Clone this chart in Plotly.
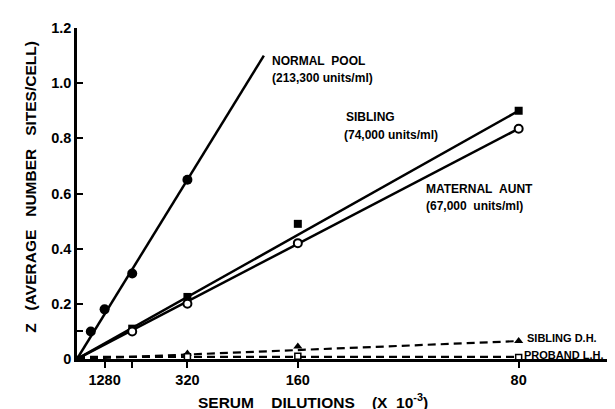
import plotly.graph_objects as go

# ---- data (serum dilutions, reciprocal) ----
normal_dil = [2560, 1280, 640, 320]
normal_z = [0.10, 0.18, 0.31, 0.65]
normal_line_top_z = 1.1

sib_dil = [640, 320, 160, 80]
sib_z = [0.11, 0.225, 0.49, 0.90]

aunt_dil = [640, 320, 160, 80]
aunt_z = [0.10, 0.20, 0.42, 0.835]

sibdh_dil = [320, 160, 80]
sibdh_z = [0.02, 0.045, 0.065]

proband_dil = [320, 160, 80]
proband_z = [0.008, 0.01, 0.005]

x_tick_dil = [1280, 320, 160, 80]
x_tick_text = ["1280", "320", "160", "80"]
x_minor_dil = [640]
y_tick_vals = [0, 0.2, 0.4, 0.6, 0.8, 1.0, 1.2]
y_tick_text = ["0", "0.2", "0.4", "0.6", "0.8", "1.0", "1.2"]
y_minor_vals = [0.1]


def conc(d):
    return [1000.0 / v for v in d]


FONT = "Liberation Sans"
NB = "\u00a0"
fig = go.Figure()


def solid_line(xs, zs, z_end=None):
    slope = zs[-1] / xs[-1]
    x_end = xs[-1] if z_end is None else z_end / slope
    return go.Scatter(x=[0, x_end], y=[0, slope * x_end], mode="lines",
                      line=dict(color="black", width=2.5), showlegend=False,
                      hoverinfo="skip", cliponaxis=False)


nx = conc(normal_dil)
fig.add_trace(solid_line(nx, normal_z, normal_line_top_z))
sx = conc(sib_dil)
fig.add_trace(solid_line(sx, sib_z))
ax = conc(aunt_dil)
fig.add_trace(solid_line(ax, aunt_z))

dx = conc(sibdh_dil)
fig.add_trace(go.Scatter(x=[0] + dx, y=[0] + [sibdh_z[-1] / dx[-1] * v for v in dx],
                         mode="lines", line=dict(color="black", width=2.2, dash="8px,5px"),
                         showlegend=False, cliponaxis=False))
px_ = conc(proband_dil)
pmean = sum(proband_z) / len(proband_z)
fig.add_trace(go.Scatter(x=[0, px_[-1]], y=[pmean, pmean],
                         mode="lines", line=dict(color="black", width=2.2, dash="8px,5px"),
                         showlegend=False, cliponaxis=False))

fig.add_trace(go.Scatter(x=nx, y=normal_z, mode="markers",
                         marker=dict(symbol="circle", size=10, color="black"),
                         showlegend=False, cliponaxis=False))
fig.add_trace(go.Scatter(x=sx, y=sib_z, mode="markers",
                         marker=dict(symbol="square", size=8, color="black"),
                         showlegend=False, cliponaxis=False))
fig.add_trace(go.Scatter(x=ax, y=aunt_z, mode="markers",
                         marker=dict(symbol="circle", size=8, color="white",
                                     line=dict(color="black", width=2)),
                         showlegend=False, cliponaxis=False))
fig.add_trace(go.Scatter(x=dx, y=sibdh_z, mode="markers",
                         marker=dict(symbol="triangle-up", size=8, color="black"),
                         showlegend=False, cliponaxis=False))
fig.add_trace(go.Scatter(x=px_, y=proband_z, mode="markers",
                         marker=dict(symbol="square", size=6, color="white",
                                     line=dict(color="black", width=1.5)),
                         showlegend=False, cliponaxis=False))

labels = [
    ("NORMAL" + NB * 2 + "POOL", 5.49, 1.082, 12),
    ("(213,300 units/ml)", 5.49, 1.017, 12),
    ("SIBLING", 7.59, 0.878, 12),
    ("(74,000 units/ml)", 7.53, 0.813, 12),
    ("MATERNAL" + NB * 2 + "AUNT", 9.85, 0.616, 12),
    ("(67,000" + NB * 2 + "units/ml)", 9.85, 0.555, 12),
    ("SIBLING" + NB + "D.H.", 12.72, 0.075, 11),
    ("PROBAND" + NB + "L.H.", 12.62, 0.014, 11),
]
for t, x, y, s in labels:
    fig.add_annotation(x=x, y=y, text=t, showarrow=False, xanchor="left",
                       yanchor="middle", borderpad=0,
                       font=dict(family=FONT, size=s, color="black", weight="bold"))

fig.add_annotation(xref="paper", yref="paper", x=-0.087, y=0.52,
                   text="Z" + NB * 3 + "(AVERAGE" + NB * 3 + "NUMBER" + NB * 3 + "SITES/CELL)",
                   textangle=-90, showarrow=False, xanchor="center", yanchor="middle",
                   font=dict(family=FONT, size=15.5, color="black", weight="bold"))
fig.add_annotation(xref="paper", yref="paper", x=0.445, y=-0.127,
                   text="SERUM" + NB * 4 + "DILUTIONS" + NB * 4 + "(X" + NB * 2 + "10<sup>-3</sup>)",
                   showarrow=False, xanchor="center", yanchor="middle",
                   font=dict(family=FONT, size=15.5, color="black", weight="bold"))

fig.update_layout(
    width=615, height=409,
    margin=dict(l=69, r=16, t=16, b=58),
    paper_bgcolor="white", plot_bgcolor="white",
    xaxis=dict(range=[0, 15], showgrid=False, zeroline=False, showline=True,
               linecolor="black", linewidth=2.5, ticks="outside", ticklen=6,
               tickwidth=2, tickcolor="black",
               tickvals=conc(x_tick_dil), ticktext=x_tick_text,
               minor=dict(tickmode="array", tickvals=conc(x_minor_dil), ticks="outside",
                          ticklen=6, tickwidth=2, tickcolor="black", showgrid=False),
               tickfont=dict(family=FONT, size=14.5, color="black", weight="bold")),
    yaxis=dict(range=[0, 1.2], showgrid=False, zeroline=False, showline=True,
               linecolor="black", linewidth=2.5, ticks="inside", ticklen=6,
               tickwidth=2, tickcolor="black",
               tickvals=y_tick_vals, ticktext=y_tick_text,
               minor=dict(tickmode="array", tickvals=y_minor_vals, ticks="inside",
                          ticklen=6, tickwidth=2, tickcolor="black", showgrid=False),
               tickfont=dict(family=FONT, size=14.5, color="black", weight="bold")),
)

fig.write_html("out.html")
